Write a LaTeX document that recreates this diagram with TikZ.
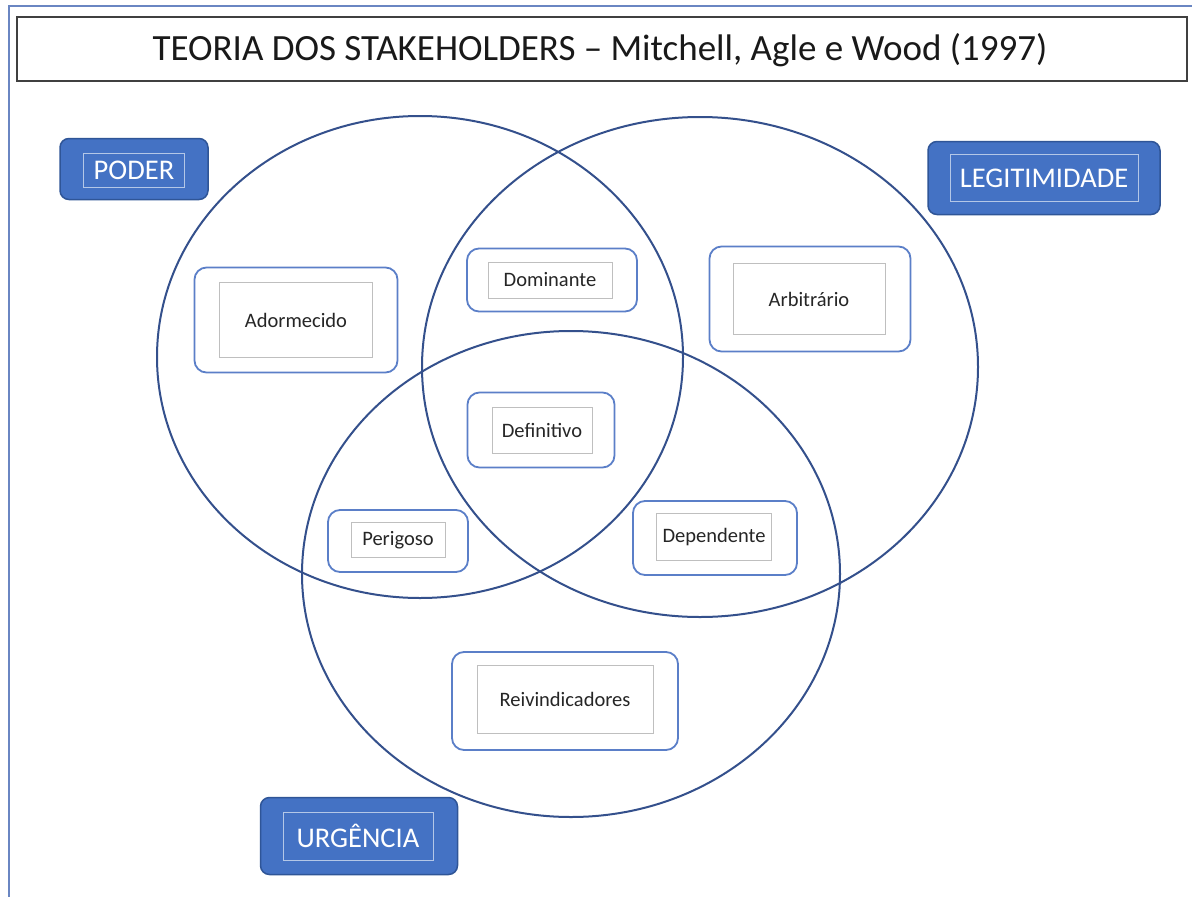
\documentclass[tikz,border=0pt]{standalone}
\usepackage{fontspec}
\setmainfont{Carlito}
\definecolor{bfill}{HTML}{4472C4}
\definecolor{bdark}{HTML}{2F5597}
\definecolor{binner}{HTML}{B4C7E7}
\definecolor{circ}{HTML}{34508C}
\definecolor{wborder}{HTML}{5B7FC8}
\definecolor{frame}{HTML}{6A86C2}
\definecolor{ttl}{HTML}{404040}
\begin{document}
\begin{tikzpicture}[x=1pt,y=-1pt,
  bluebox/.style={draw=bdark, fill=bfill, rounded corners=9pt, line width=1.5pt},
  bluein/.style={draw=binner, line width=1pt, text=white, font=\fontsize{28.5}{28.5}\selectfont, inner sep=0pt},
  wbox/.style={draw=wborder, rounded corners=12pt, line width=1.8pt},
  winner/.style={draw=black!25, line width=1pt, font=\fontsize{20.5}{20.5}\selectfont, text=black!85, inner sep=0pt},
  venn/.style={draw=circ, line width=2pt}]
\useasboundingbox (0,0) rectangle (1192,897);
\fill[white] (0,0) rectangle (1192,897);
% frame
\draw[frame, line width=2pt] (9,897) -- (9,6) -- (1192,6);
% title
\node[draw=ttl, line width=1.8pt, minimum width=1170pt, minimum height=64pt, inner sep=0pt,
  font=\fontsize{37}{37}\selectfont, text=black!90] (title) at (602,49) {};
\node[font=\fontsize{37}{37}\selectfont, text=black!90, inner sep=0pt] (titletext) at (600,50) {TEORIA DOS STAKEHOLDERS – Mitchell, Agle e Wood (1997)};
% ellipses
\draw[venn] (420,357) ellipse [x radius=263, y radius=241];
\draw[venn] (700,367) ellipse [x radius=278, y radius=250];
\draw[venn] (571,574) ellipse [x radius=269, y radius=243];
% blue labels
\node[bluebox, minimum width=148pt, minimum height=61pt] (poderbox) at (134,169) {};
\node[bluein, minimum width=101pt, minimum height=34pt] (poder) at (134,170) {PODER};
\node[bluebox, minimum width=232pt, minimum height=73pt] (legbox) at (1044,178) {};
\node[bluein, minimum width=188pt, minimum height=47pt] (leg) at (1044,178) {LEGITIMIDADE};
\node[bluebox, minimum width=197pt, minimum height=77pt] (urgbox) at (359,836) {};
\node[bluein, minimum width=150pt, minimum height=48pt] (urg) at (358,836) {URGÊNCIA};
% white boxes
\node[wbox, minimum width=203pt, minimum height=105pt] (adbox) at (296,320) {};
\node[winner, minimum width=153pt, minimum height=75pt] (ad) at (296,320) {Adormecido};
\node[wbox, minimum width=170pt, minimum height=63pt] (dombox) at (552,280) {};
\node[winner, minimum width=124pt, minimum height=36pt] (dom) at (550,280) {Dominante};
\node[wbox, minimum width=201pt, minimum height=105pt] (arbbox) at (810,299) {};
\node[winner, minimum width=152pt, minimum height=71pt] (arb) at (809,299) {Arbitrário};
\node[wbox, minimum width=147pt, minimum height=75pt] (defbox) at (541,430) {};
\node[winner, minimum width=100pt, minimum height=46pt] (def) at (542,430) {Definitivo};
\node[wbox, minimum width=140pt, minimum height=62pt] (perbox) at (398,541) {};
\node[winner, minimum width=94pt, minimum height=35pt] (per) at (398,540) {Perigoso};
\node[wbox, minimum width=164pt, minimum height=74pt] (depbox) at (715,538) {};
\node[winner, minimum width=115pt, minimum height=47pt] (dep) at (714,537) {Dependente};
\node[wbox, minimum width=226pt, minimum height=98pt] (reibox) at (565,701) {};
\node[winner, minimum width=176pt, minimum height=68pt] (rei) at (565,699) {Reivindicadores};
\end{tikzpicture}
\end{document}
